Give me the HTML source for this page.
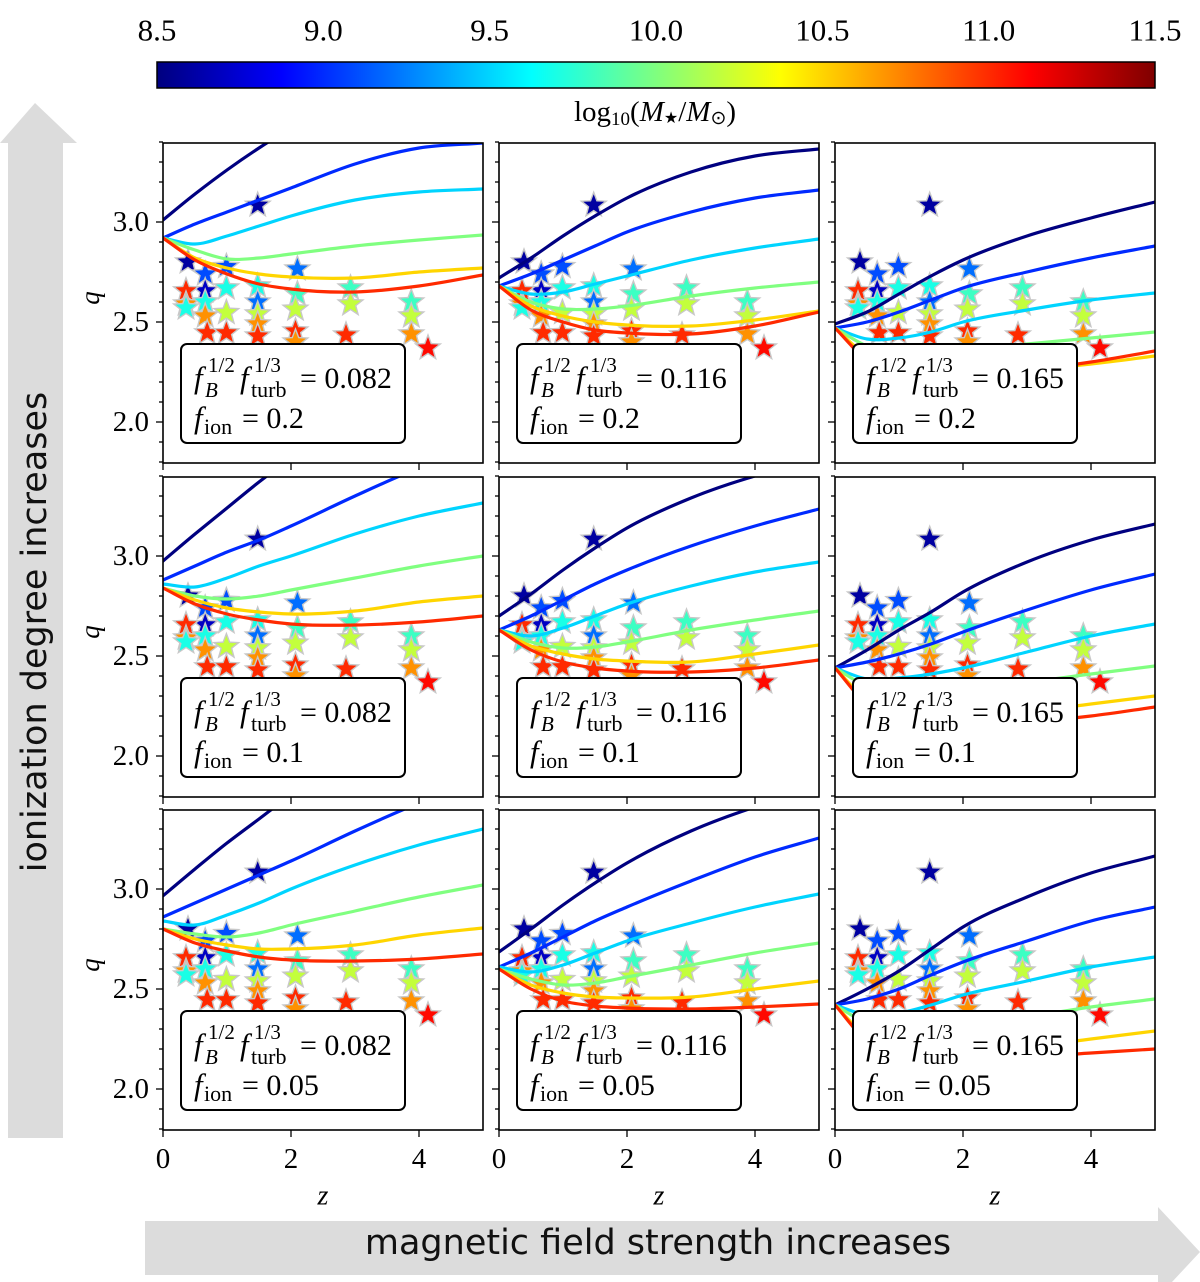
<!DOCTYPE html>
<html><head><meta charset="utf-8"><style>
html,body{margin:0;padding:0;background:#fff;}
#wrap{position:relative;width:1200px;height:1282px;overflow:hidden;}
svg{position:absolute;left:0;top:0;}
</style></head><body>
<div id="wrap">
<svg id="fig" width="1200" height="1282" viewBox="0 0 1200 1282" xmlns="http://www.w3.org/2000/svg">
<defs>
<linearGradient id="jet" x1="0" x2="1" y1="0" y2="0">
<stop offset="0" stop-color="#00007f"/><stop offset="0.125" stop-color="#0000ff"/>
<stop offset="0.375" stop-color="#00ffff"/><stop offset="0.5" stop-color="#7fff7f"/>
<stop offset="0.625" stop-color="#ffff00"/><stop offset="0.875" stop-color="#ff0000"/>
<stop offset="1" stop-color="#7f0000"/>
</linearGradient>
</defs>
<polygon points="8,143 0,143 35,103 77,143 63,143 63,1138 8,1138" fill="#dcdcdc"/>
<text x="35" y="632" transform="rotate(-90 35 632)" text-anchor="middle" dominant-baseline="central" font-family="DejaVu Sans, sans-serif" font-size="35" fill="#111">ionization degree increases</text>
<polygon points="145,1221 1158,1221 1158,1207 1200,1252 1158,1297 1158,1275 145,1275" fill="#dcdcdc"/>
<text x="658" y="1243" text-anchor="middle" dominant-baseline="central" font-family="DejaVu Sans, sans-serif" font-size="35" fill="#111">magnetic field strength increases</text>
<rect x="157" y="62" width="998" height="26" fill="url(#jet)" stroke="#000" stroke-width="1.5"/>
<text x="655" y="112" text-anchor="middle" dominant-baseline="central" font-family="Liberation Serif, serif" font-size="29">log<tspan font-size="19" dy="7">10</tspan><tspan dy="-7">(</tspan><tspan font-style="italic">M</tspan><tspan font-size="16" dy="6">★</tspan><tspan dy="-6">/</tspan><tspan font-style="italic">M</tspan><tspan font-size="19" dy="6">⊙</tspan><tspan dy="-6">)</tspan></text>
<g id="cbticks"></g>
<g id="panels"></g>
</svg>
</div>
<script>
// ---- data ----
const zGrid = [0, 0.5, 1, 1.5, 2, 3, 4, 5];
const massLevels = [8.5, 9.0, 9.5, 10.0, 10.5, 11.0];
const cbTicks = [8.5, 9.0, 9.5, 10.0, 10.5, 11.0, 11.5];
const xTicks = [0, 2, 4];
const yTicks = [2.0, 2.5, 3.0];
const fbValues = ["0.082", "0.116", "0.165"];
const fionValues = ["0.2", "0.1", "0.05"];

const curvesR1C1 = [
 [3.01,3.14,3.26,3.37,3.47,3.62,3.74,3.82],
 [2.92,2.99,3.05,3.11,3.17,3.29,3.37,3.395],
 [2.92,2.89,2.93,2.98,3.03,3.11,3.15,3.165],
 [2.92,2.86,2.815,2.82,2.84,2.88,2.91,2.935],
 [2.92,2.82,2.77,2.74,2.725,2.72,2.75,2.77],
 [2.92,2.81,2.74,2.69,2.665,2.65,2.68,2.735]];
const curvesR1C2 = [
 [2.72,2.82,2.93,3.03,3.12,3.25,3.33,3.365],
 [2.68,2.74,2.81,2.88,2.95,3.05,3.12,3.16],
 [2.68,2.64,2.65,2.69,2.73,2.81,2.87,2.915],
 [2.68,2.60,2.565,2.565,2.58,2.63,2.67,2.70],
 [2.68,2.58,2.53,2.50,2.485,2.48,2.51,2.555],
 [2.68,2.56,2.50,2.46,2.445,2.44,2.48,2.55]];
const curvesR1C3 = [
 [2.49,2.55,2.64,2.73,2.81,2.93,3.02,3.10],
 [2.47,2.50,2.55,2.61,2.67,2.75,2.82,2.88],
 [2.47,2.415,2.42,2.45,2.50,2.56,2.61,2.645],
 [2.47,2.38,2.35,2.35,2.36,2.39,2.42,2.45],
 [2.47,2.33,2.27,2.25,2.25,2.26,2.29,2.33],
 [2.47,2.31,2.25,2.23,2.23,2.26,2.30,2.355]];
const curvesR2C1 = [
 [2.975,3.11,3.24,3.37,3.49,3.70,3.85,3.95],
 [2.88,2.95,3.02,3.08,3.15,3.30,3.44,3.55],
 [2.86,2.845,2.89,2.95,3.00,3.11,3.20,3.265],
 [2.84,2.80,2.785,2.80,2.83,2.89,2.95,3.00],
 [2.84,2.78,2.74,2.72,2.71,2.725,2.77,2.80],
 [2.84,2.76,2.71,2.68,2.66,2.655,2.67,2.70]];
const curvesR2C2 = [
 [2.70,2.81,2.93,3.04,3.14,3.29,3.40,3.48],
 [2.63,2.70,2.78,2.86,2.93,3.05,3.15,3.235],
 [2.63,2.60,2.64,2.70,2.76,2.85,2.92,2.97],
 [2.63,2.57,2.54,2.545,2.57,2.63,2.68,2.725],
 [2.63,2.55,2.51,2.485,2.475,2.47,2.51,2.555],
 [2.63,2.53,2.47,2.44,2.425,2.42,2.44,2.48]];
const curvesR2C3 = [
 [2.44,2.53,2.63,2.72,2.82,2.97,3.08,3.16],
 [2.44,2.47,2.51,2.56,2.62,2.73,2.83,2.91],
 [2.44,2.385,2.39,2.41,2.44,2.52,2.60,2.66],
 [2.44,2.35,2.33,2.33,2.34,2.37,2.41,2.45],
 [2.44,2.28,2.22,2.20,2.20,2.22,2.26,2.30],
 [2.44,2.26,2.19,2.17,2.16,2.17,2.20,2.245]];
const curvesR3C1 = [
 [2.966,3.10,3.23,3.35,3.47,3.66,3.80,3.90],
 [2.86,2.93,3.00,3.07,3.14,3.29,3.43,3.55],
 [2.84,2.82,2.87,2.93,3.00,3.12,3.22,3.30],
 [2.80,2.775,2.76,2.78,2.82,2.89,2.96,3.02],
 [2.80,2.75,2.72,2.70,2.70,2.72,2.77,2.805],
 [2.80,2.73,2.69,2.66,2.645,2.64,2.65,2.675]];
const curvesR3C2 = [
 [2.685,2.80,2.92,3.03,3.13,3.29,3.41,3.50],
 [2.61,2.68,2.76,2.84,2.91,3.04,3.16,3.255],
 [2.61,2.585,2.62,2.68,2.74,2.83,2.91,2.975],
 [2.60,2.55,2.52,2.53,2.56,2.62,2.68,2.73],
 [2.60,2.52,2.48,2.46,2.455,2.46,2.50,2.54],
 [2.60,2.50,2.44,2.415,2.405,2.40,2.41,2.425]];
const curvesR3C3 = [
 [2.42,2.50,2.59,2.70,2.81,2.96,3.08,3.165],
 [2.42,2.45,2.50,2.57,2.635,2.74,2.84,2.91],
 [2.42,2.37,2.38,2.42,2.47,2.54,2.61,2.66],
 [2.42,2.33,2.31,2.31,2.32,2.36,2.41,2.45],
 [2.42,2.26,2.20,2.19,2.19,2.21,2.25,2.29],
 [2.42,2.24,2.17,2.15,2.15,2.16,2.18,2.20]];
const panelCurves = [[curvesR1C1,curvesR1C2,curvesR1C3],[curvesR2C1,curvesR2C2,curvesR2C3],[curvesR3C1,curvesR3C2,curvesR3C3]];

const starZ = [1.48,0.39,0.66,0.99,0.66,0.36,0.36,0.36,0.66,0.99,0.66,0.69,0.99,0.99,1.48,1.48,1.48,1.48,1.48,2.10,2.10,2.07,2.07,2.07,2.93,2.93,2.86,3.88,3.88,3.88,4.14];
const starQ = [3.084,2.80,2.74,2.777,2.656,2.656,2.59,2.57,2.60,2.67,2.53,2.446,2.547,2.446,2.68,2.60,2.54,2.49,2.43,2.765,2.64,2.564,2.455,2.40,2.67,2.59,2.435,2.60,2.53,2.44,2.37];
const starMass = [8.6,8.6,9.1,9.1,8.7,11.0,10.7,9.7,9.7,9.7,10.7,11.0,10.2,11.0,9.7,9.2,10.2,10.7,11.0,9.2,9.8,10.2,11.0,10.7,9.8,10.2,11.0,9.8,10.2,10.7,11.1];

// ---- layout ----
const colX = [163, 499, 835], rowY = [143, 477, 810];
const PW = 320, PH = 320, zMin = 0, zMax = 5, qMin = 1.795, qMax = 3.395;
const NS = 'http://www.w3.org/2000/svg';
function mk(tag, attrs, parent) {
  const e = document.createElementNS(NS, tag);
  for (const k in attrs) e.setAttribute(k, attrs[k]);
  if (parent) parent.appendChild(e);
  return e;
}
function jet(m) {
  const t = Math.max(0, Math.min(1, (m - 8.5) / 3));
  const c = v => Math.round(255 * Math.max(0, Math.min(1, v)));
  return `rgb(${c(1.5 - Math.abs(4*t - 3))},${c(1.5 - Math.abs(4*t - 2))},${c(1.5 - Math.abs(4*t - 1))})`;
}
function starPts(cx, cy, R) {
  const r = R * 0.42, p = [];
  for (let i = 0; i < 10; i++) {
    const a = -Math.PI/2 + i*Math.PI/5, rr = i % 2 ? r : R;
    p.push((cx + rr*Math.cos(a)).toFixed(1) + ',' + (cy + rr*Math.sin(a)).toFixed(1));
  }
  return p.join(' ');
}
// cubic Hermite in data space with non-uniform spacing
function curvePath(zs, qs, sx, sy) {
  const n = zs.length, m = [];
  for (let i = 0; i < n; i++) {
    if (i === 0) m.push((qs[1]-qs[0])/(zs[1]-zs[0]));
    else if (i === n-1) m.push((qs[n-1]-qs[n-2])/(zs[n-1]-zs[n-2]));
    else {
      const d0 = (qs[i]-qs[i-1])/(zs[i]-zs[i-1]), d1 = (qs[i+1]-qs[i])/(zs[i+1]-zs[i]);
      const h0 = zs[i]-zs[i-1], h1 = zs[i+1]-zs[i];
      m.push((d0*h1 + d1*h0)/(h0+h1));
    }
  }
  let d = `M${sx(zs[0]).toFixed(1)},${sy(qs[0]).toFixed(1)}`;
  for (let i = 0; i < n-1; i++) {
    const h = zs[i+1]-zs[i];
    const c1z = zs[i] + h/3, c1q = qs[i] + m[i]*h/3;
    const c2z = zs[i+1] - h/3, c2q = qs[i+1] - m[i+1]*h/3;
    d += ` C${sx(c1z).toFixed(1)},${sy(c1q).toFixed(1)} ${sx(c2z).toFixed(1)},${sy(c2q).toFixed(1)} ${sx(zs[i+1]).toFixed(1)},${sy(qs[i+1]).toFixed(1)}`;
  }
  return d;
}
const svg = document.getElementById('fig');
const defs = svg.querySelector('defs');
const FS = 'Liberation Serif, serif';

const cbg = document.getElementById('cbticks');
cbTicks.forEach(v => {
  const x = 157 + (v - 8.5) / 3 * 998;
  const t = mk('text', {x: x, y: 30, 'text-anchor': 'middle', 'dominant-baseline': 'central', 'font-family': FS, 'font-size': 31}, cbg);
  t.textContent = v.toFixed(1);
  
  
});

const pg = document.getElementById('panels');
for (let r = 0; r < 3; r++) for (let c = 0; c < 3; c++) {
  const x0 = colX[c], y0 = rowY[r];
  const sx = z => x0 + (z - zMin) / (zMax - zMin) * PW;
  const sy = q => y0 + (qMax - q) / (qMax - qMin) * PH;
  const g = mk('g', {}, pg);
  
  
  const cp = mk('clipPath', {id: `clip${r}${c}`}, defs);
  mk('rect', {x: x0, y: y0, width: PW, height: PH}, cp);
  const inner = mk('g', {'clip-path': `url(#clip${r}${c})`}, g);
  for (let i = 0; i < starZ.length; i++) {
    const cx = sx(starZ[i]), cy = sy(starQ[i]);
    const gs = mk('polygon', {points: starPts(cx, cy, 15), fill: '#c8c8c8'}, inner);
    
    
    const st = mk('polygon', {points: starPts(cx, cy, 11), fill: jet(starMass[i])}, inner);
    
    
  }
  const curves = panelCurves[r][c];
  curves.forEach((qs, k) => {
    const p = mk('path', {d: curvePath(zGrid, qs, sx, sy), fill: 'none', stroke: jet(massLevels[k]), 'stroke-width': 3.2, 'stroke-linecap': 'round'}, inner);
    
    
  });
  const fr = mk('rect', {x: x0, y: y0, width: PW, height: PH, fill: 'none', stroke: '#000', 'stroke-width': 1.6}, g);
  
  
  for (let q = 1.8; q <= 3.4001; q += 0.1) {
    const y = sy(q);
    const major = Math.abs(q*2 - Math.round(q*2)) < 1e-6;
    mk('line', {x1: x0 - (major ? 7 : 4), x2: x0, y1: y, y2: y, stroke: '#000', 'stroke-width': 1.3}, g);
  }
  if (c === 0) {
    yTicks.forEach(q => {
      const t = mk('text', {x: 149, y: sy(q), 'text-anchor': 'end', 'dominant-baseline': 'central', 'font-family': FS, 'font-size': 29}, g);
      t.textContent = q.toFixed(1);
      
      
    });
    const ql = mk('text', {x: 90, y: y0 + 155, transform: `rotate(-90 90 ${y0+155})`, 'text-anchor': 'middle', 'dominant-baseline': 'central', 'font-family': FS, 'font-size': 27, 'font-style': 'italic'}, g);
    ql.textContent = 'q';
    
    
  }
  xTicks.forEach(z => {
    mk('line', {x1: sx(z), x2: sx(z), y1: y0 + PH, y2: y0 + PH + 7, stroke: '#000', 'stroke-width': 1.3}, g);
    if (r === 2) {
      const t = mk('text', {x: sx(z), y: 1159, 'text-anchor': 'middle', 'dominant-baseline': 'central', 'font-family': FS, 'font-size': 29}, g);
      t.textContent = String(z);
      
      
    }
  });
  if (r === 2) {
    const zl = mk('text', {x: x0 + 160, y: 1196, 'text-anchor': 'middle', 'dominant-baseline': 'central', 'font-family': FS, 'font-size': 28, 'font-style': 'italic'}, g);
    zl.textContent = 'z';
    
    
  }
  const bx = x0 + 18, by = y0 + 201;
  const lg = mk('g', {'font-family': FS}, g);
  
  
  mk('rect', {x: bx, y: by, width: 224, height: 99, rx: 6, fill: '#fff', stroke: '#000', 'stroke-width': 2}, lg);
  const txt = (s, dx, dy, size, ital) => {
    const t = mk('text', {x: bx + dx, y: by + dy, 'font-size': size, 'font-style': ital ? 'italic' : 'normal'}, lg);
    t.textContent = s;
    return t;
  };
  txt('f', 13, 44, 31, true);
  txt('1/2', 27, 28, 21, false);
  txt('B', 24, 53, 21, true);
  txt('f', 59, 44, 31, true);
  txt('1/3', 73, 28, 21, false);
  txt('turb', 70, 53, 22, false);
  txt('= ' + fbValues[c], 119, 44, 30, false);
  txt('f', 13, 84, 31, true);
  txt('ion', 23, 90, 22, false);
  txt('= ' + fionValues[r], 61, 84, 30, false);
}
</script>
</body></html>
